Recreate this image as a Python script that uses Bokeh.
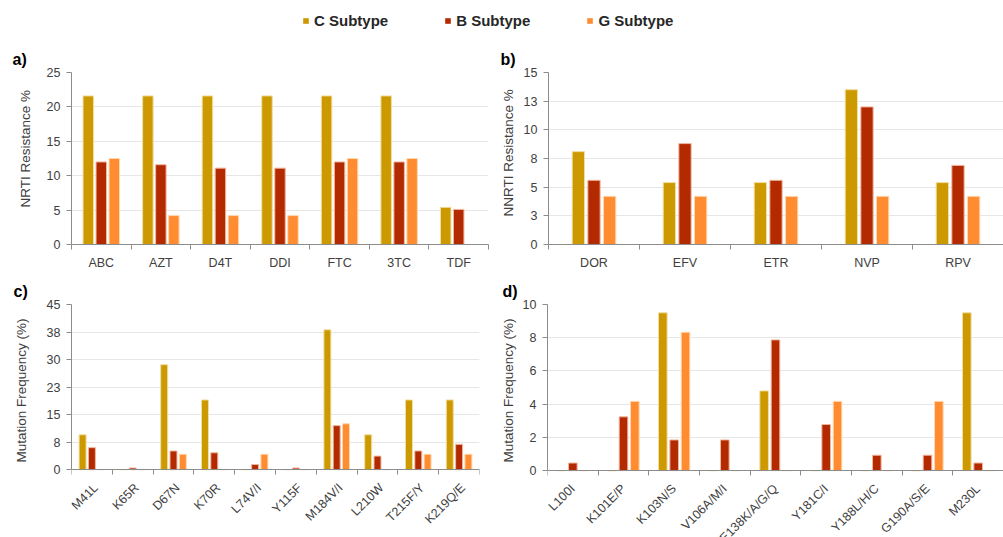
import numpy as np
from bokeh.plotting import figure
from bokeh.models import (Range1d, FixedTicker, ColumnDataSource, Legend,
                          LegendItem, CustomJSTickFormatter, Title)
from bokeh.layouts import column, row
from bokeh.core.properties import value
from bokeh.embed import file_html
from bokeh.resources import INLINE

# ---------------- data ----------------
series = ["C Subtype", "B Subtype", "G Subtype"]
colors = ["#CC9900", "#B32A00", "#FF8C30"]

nrti_drugs = ["ABC", "AZT", "D4T", "DDI", "FTC", "3TC", "TDF"]
nrti_c = [21.6, 21.6, 21.6, 21.6, 21.6, 21.6, 5.4]
nrti_b = [12.0, 11.6, 11.1, 11.1, 12.0, 12.0, 5.1]
nrti_g = [12.5, 4.2, 4.2, 4.2, 12.5, 12.5, 0.0]

nnrti_drugs = ["DOR", "EFV", "ETR", "NVP", "RPV"]
nnrti_c = [8.1, 5.4, 5.4, 13.5, 5.4]
nnrti_b = [5.6, 8.8, 5.6, 12.0, 6.9]
nnrti_g = [4.2, 4.2, 4.2, 4.2, 4.2]

nrti_mut = ["M41L", "K65R", "D67N", "K70R", "L74V/I", "Y115F", "M184V/I", "L210W", "T215F/Y", "K219Q/E"]
nrti_mut_c = [9.5, 0.0, 28.6, 19.0, 0.0, 0.0, 38.1, 9.5, 19.0, 19.0]
nrti_mut_b = [6.0, 0.46, 5.1, 4.6, 1.4, 0.46, 12.0, 3.7, 5.1, 6.9]
nrti_mut_g = [0.0, 0.0, 4.2, 0.0, 4.2, 0.0, 12.5, 0.0, 4.2, 4.2]

nnrti_mut = ["L100I", "K101E/P", "K103N/S", "V106A/M/I", "E138K/A/G/Q", "Y181C/I", "Y188L/H/C", "G190A/S/E", "M230L"]
nnrti_mut_c = [0.0, 0.0, 9.5, 0.0, 4.8, 0.0, 0.0, 0.0, 9.5]
nnrti_mut_b = [0.46, 3.24, 1.85, 1.85, 7.87, 2.78, 0.93, 0.93, 0.46]
nnrti_mut_g = [0.0, 4.17, 8.33, 0.0, 0.0, 4.17, 0.0, 4.17, 0.0]

FONT = "Liberation Sans"
AXIS_COLOR = "#8C8C8C"
TEXT_COLOR = "#404040"
EDGE_COLORS = ["#F2DDA0", "#F0B8A0", "#FFD8B0"]


def make_panel(cats, vals, width, height, y_end, y_ticks, ylabel, letter,
               spacing, bar_w, borders, title_offset, ylab_offset, ylab_standoff,
               rotated=False, round_fmt=False, zero_below=0, lab_dx=-1):
    """zero_below: pixels of frame kept below the zero line (for rotated labels)."""
    n = len(cats)
    bl, br, bt, bb = borders
    frame_h = height - bt - bb
    y_start = 0
    if rotated:
        y_start = -zero_below / (frame_h - zero_below) * y_end
    p = figure(width=width, height=height, x_range=Range1d(-0.5, n - 0.5),
               y_range=Range1d(y_start, y_end), output_backend="svg", toolbar_location=None,
               min_border_left=bl, min_border_right=br, min_border_top=bt, min_border_bottom=bb,
               title=letter)
    p.outline_line_color = None
    p.background_fill_color = "white"
    p.border_fill_color = "white"

    idx = np.arange(n)
    for k, (v, col) in enumerate(zip(vals, colors)):
        src = ColumnDataSource(dict(x=idx + (k - 1) * spacing, top=v))
        p.vbar(x="x", top="top", bottom=0, width=bar_w, source=src, fill_color=col,
               line_color=EDGE_COLORS[k], line_width=1)

    # grid
    p.xgrid.visible = False
    p.ygrid.grid_line_color = "#E6E6E6"
    p.ygrid.grid_line_width = 1

    # y axis
    ya = p.yaxis[0]
    ya.ticker = FixedTicker(ticks=y_ticks)
    ya.bounds = (0, y_end)
    if round_fmt:
        ya.formatter = CustomJSTickFormatter(code="return Math.round(tick).toString();")
    ya.axis_line_color = AXIS_COLOR
    ya.major_tick_line_color = AXIS_COLOR
    ya.minor_tick_line_color = None
    ya.major_tick_out = 5
    ya.major_tick_in = 0
    ya.major_label_standoff = 6
    ya.major_label_text_font = FONT
    ya.major_label_text_font_size = "12.5px"
    ya.major_label_text_color = TEXT_COLOR

    # y axis title as a side title so it can be positioned along the frame
    yt = Title(text=ylabel, align="left", vertical_align="top", offset=ylab_offset,
               standoff=ylab_standoff, text_font=FONT, text_font_size="13.5px",
               text_font_style="normal", text_color=TEXT_COLOR)
    p.add_layout(yt, "left")

    # x axis: ticks at category boundaries
    xa = p.xaxis[0]
    boundaries = [i - 0.5 for i in range(n + 1)]
    if rotated:
        xa.ticker = FixedTicker(ticks=[], minor_ticks=boundaries)
        xa.fixed_location = 0
    else:
        xa.ticker = FixedTicker(ticks=list(range(n)), minor_ticks=boundaries)
        xa.major_label_overrides = {i: c for i, c in enumerate(cats)}
    xa.axis_line_color = AXIS_COLOR
    xa.major_tick_line_color = None
    xa.major_tick_out = 0
    xa.major_tick_in = 0
    xa.minor_tick_line_color = AXIS_COLOR
    xa.minor_tick_out = 5
    xa.minor_tick_in = 0
    xa.major_label_standoff = 6
    xa.major_label_text_font = FONT
    xa.major_label_text_font_size = "12.5px"
    xa.major_label_text_color = TEXT_COLOR

    if rotated:
        lsrc = ColumnDataSource(dict(x=idx, y=[0] * n, t=cats))
        p.text(x="x", y="y", text="t", source=lsrc, angle=45, angle_units="deg",
               text_align="right", text_baseline="middle", x_offset=lab_dx, y_offset=16,
               text_font=value(FONT), text_font_size=value("12.5px"),
               text_color=TEXT_COLOR)

    p.title.align = "left"
    p.title.offset = title_offset
    p.title.text_font = FONT
    p.title.text_font_size = "16px"
    p.title.text_font_style = "bold"
    p.title.text_color = "#000000"
    return p


pa = make_panel(nrti_drugs, [nrti_c, nrti_b, nrti_g], 497, 233, 25, [0, 5, 10, 15, 20, 25],
                "NRTI Resistance  %", "a)", 0.218, 0.176, (71, 9, 27, 31), -59, 37, 18)
pb = make_panel(nnrti_drugs, [nnrti_c, nnrti_b, nnrti_g], 506, 233, 15,
                [0, 2.5, 5, 7.5, 10, 12.5, 15], "NNRTI Resistance  %", "b)", 0.172, 0.135,
                (51, 0, 30, 30), -48, 28, 6, round_fmt=True)
pc = make_panel(nrti_mut, [nrti_mut_c, nrti_mut_b, nrti_mut_g], 497, 262, 45,
                [0, 7.5, 15, 22.5, 30, 37.5, 45], "Mutation  Frequency (%)", "c)", 0.228, 0.171,
                (70, 18, 25, 0), -58, 75, 26, rotated=True, round_fmt=True, zero_below=69,
                lab_dx=4)
pd = make_panel(nnrti_mut, [nnrti_mut_c, nnrti_mut_b, nnrti_mut_g], 506, 262, 10,
                [0, 2, 4, 6, 8, 10], "Mutation Frequency (%)", "d)", 0.224, 0.17,
                (50, 0, 25, 0), -45, 75, 4, rotated=True, zero_below=68, lab_dx=0)

# ---------------- legend strip ----------------
lf = figure(width=1003, height=42, x_range=Range1d(0, 1), y_range=Range1d(0, 1),
            output_backend="svg", toolbar_location=None,
            min_border_left=0, min_border_right=0, min_border_top=0, min_border_bottom=0)
lf.axis.visible = False
lf.grid.visible = False
lf.outline_line_color = None
items = []
for s, col in zip(series, colors):
    r = lf.vbar(x=[0], top=[0], width=0.001, fill_color=col, line_color=None)
    items.append(LegendItem(label=s, renderers=[r]))
leg = Legend(items=items, orientation="horizontal", location=(302, 13),
             glyph_width=7, glyph_height=7, label_standoff=5, spacing=56,
             padding=0, margin=0, border_line_color=None, background_fill_alpha=0,
             label_text_font=FONT, label_text_font_size="15px", label_text_font_style="bold",
             label_text_color="#262626")
lf.add_layout(leg)

layout = column(lf, row(pa, pb), row(pc, pd))
open("out.html", "w").write(file_html(layout, INLINE))
